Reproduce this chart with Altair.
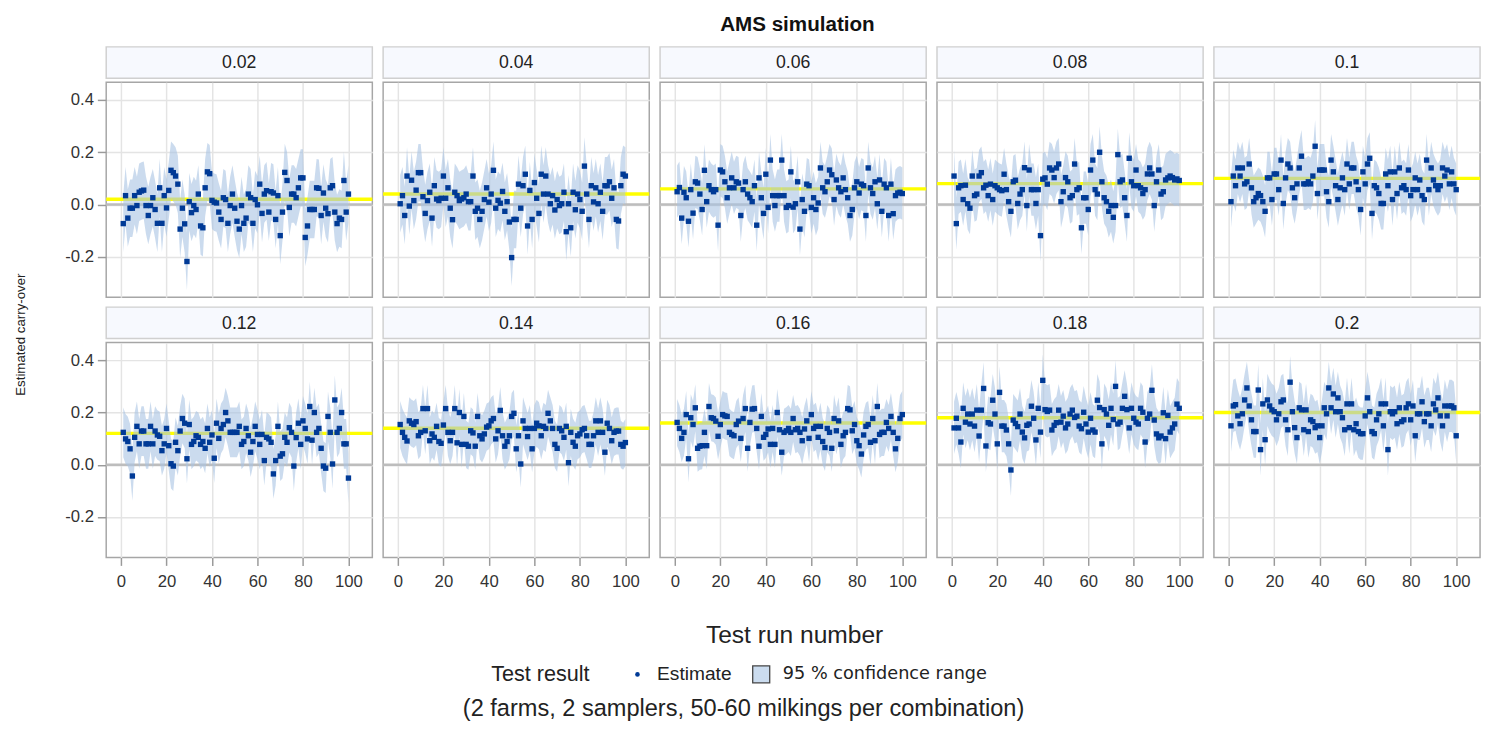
import altair as alt
import pandas as pd

FONT = "Liberation Sans"

TITLE = "AMS simulation"
Y_TITLE = "Estimated carry-over"
X_TITLE = "Test run number"
LEGEND_TITLE = "Test result"
LEGEND_LABELS = ["Estimate", "95 % confidence range"]
FOOTNOTE = "(2 farms, 2 samplers, 50-60 milkings per combination)"

PANEL_LABELS = ["0.02", "0.04", "0.06", "0.08", "0.1", "0.12", "0.14", "0.16", "0.18", "0.2"]
TRUE_VALUES = [0.02, 0.04, 0.06, 0.08, 0.10, 0.12, 0.14, 0.16, 0.18, 0.20]
HALF_WIDTHS = [0.11, 0.11, 0.10, 0.10, 0.10, 0.095, 0.09, 0.09, 0.10, 0.10]
X_TICKS = [0, 20, 40, 60, 80, 100]
Y_TICKS = [-0.2, 0.0, 0.2, 0.4]

EST_002 = [-0.073, 0.034, -0.052, -0.014, -0.014, 0.034, -0.004, 0.047, 0.052, 0.055,
           -0.004, -0.042, -0.004, 0.026, -0.019, -0.072, 0.064, -0.072, 0.034, -0.013,
           0.054, 0.131, 0.122, 0.109, 0.078, -0.094, -0.014, -0.074, -0.218, 0.011,
           -0.031, -0.004, -0.019, 0.040, -0.082, -0.089, 0.064, 0.125, 0.118, 0.016,
           0.009, 0.006, -0.029, -0.057, 0.026, 0.019, -0.072, -0.004, 0.040, -0.014,
           -0.064, -0.094, -0.004, -0.072, -0.052, 0.040, 0.026, -0.072, 0.019, -0.001,
           0.078, -0.034, 0.040, 0.053, -0.029, 0.049, 0.044, -0.057, 0.034, -0.119,
           -0.029, 0.123, 0.092, -0.011, 0.040, 0.040, 0.026, 0.064, 0.102, 0.102,
           -0.126, -0.082, -0.019, -0.019, -0.019, 0.064, 0.062, -0.042, 0.044, -0.014,
           -0.035, 0.064, 0.072, -0.029, -0.073, -0.052, -0.057, 0.092, -0.029, 0.040]

EST_004 = [0.003, 0.034, -0.042, 0.109, -0.006, 0.093, 0.015, 0.055, 0.122, 0.122,
           0.030, -0.034, 0.015, 0.047, -0.052, 0.072, 0.021, 0.015, 0.024, 0.109,
           0.024, 0.064, -0.014, -0.058, 0.047, 0.034, 0.015, 0.021, 0.026, 0.040,
           0.011, 0.011, 0.109, -0.026, -0.014, -0.057, -0.026, 0.019, 0.064, 0.009,
           0.040, 0.131, -0.014, 0.016, 0.005, 0.050, -0.026, 0.011, -0.067, -0.203,
           -0.057, -0.057, 0.078, -0.014, 0.072, 0.116, -0.082, 0.054, -0.057, 0.084,
           0.024, -0.034, 0.116, 0.040, 0.109, 0.040, 0.003, 0.034, -0.021, 0.019,
           -0.004, 0.003, 0.047, -0.104, 0.003, -0.089, 0.047, -0.020, 0.040, 0.019,
           -0.026, 0.147, 0.040, -0.057, 0.072, 0.010, 0.064, 0.003, 0.047, -0.026,
           0.072, 0.072, 0.087, 0.024, 0.064, -0.057, -0.063, 0.072, 0.116, 0.109]

EST_006 = [0.049, 0.065, -0.052, 0.047, 0.026, -0.064, 0.057, -0.033, 0.087, 0.082,
           0.040, -0.019, 0.131, 0.011, 0.072, 0.057, 0.049, 0.057, -0.079, 0.132,
           0.125, 0.087, 0.026, 0.064, 0.102, 0.064, 0.087, 0.082, -0.042, 0.057,
           0.087, 0.040, 0.026, 0.011, 0.072, -0.079, 0.102, 0.026, -0.034, 0.116,
           -0.011, 0.170, 0.034, -0.004, 0.034, 0.034, 0.170, 0.034, -0.011, -0.004,
           0.125, -0.010, 0.003, 0.087, -0.094, 0.019, -0.026, 0.078, 0.072, -0.011,
           0.026, -0.019, 0.006, 0.140, 0.064, 0.049, 0.087, 0.132, 0.114, 0.019,
           0.094, 0.064, 0.049, 0.102, 0.057, 0.026, -0.042, -0.019, 0.064, 0.087,
           0.044, 0.078, 0.072, -0.042, 0.140, 0.064, 0.042, 0.087, 0.003, 0.094,
           -0.026, 0.078, 0.064, -0.042, 0.078, -0.035, 0.034, 0.044, 0.047, 0.042]

EST_008 = [0.109, -0.073, 0.064, 0.072, 0.019, 0.074, 0.003, -0.014, 0.109, 0.034,
           0.040, 0.109, 0.122, 0.064, 0.074, 0.034, 0.078, 0.019, 0.072, 0.064,
           0.057, 0.053, 0.116, 0.057, 0.011, -0.026, 0.087, 0.093, 0.004, 0.040,
           0.057, 0.141, -0.004, 0.132, 0.057, 0.057, 0.004, 0.057, -0.119, 0.097,
           0.102, 0.078, 0.140, 0.132, 0.103, 0.140, 0.155, 0.011, 0.049, 0.103,
           0.087, 0.026, 0.034, 0.155, 0.057, 0.064, -0.089, 0.026, 0.026, -0.019,
           0.132, 0.170, 0.057, 0.040, 0.200, 0.087, 0.026, 0.011, -0.026, -0.004,
           -0.049, -0.004, 0.191, 0.087, 0.094, 0.026, -0.042, 0.177, 0.087, 0.072,
           0.132, 0.072, 0.064, 0.042, 0.057, 0.117, 0.140, 0.117, -0.004, 0.087,
           0.132, 0.040, 0.049, 0.094, 0.102, 0.109, 0.103, 0.094, 0.098, 0.092]

EST_010 = [0.011, 0.109, 0.072, 0.140, 0.109, 0.140, 0.079, 0.087, 0.155, 0.064,
           0.011, 0.026, 0.042, 0.034, 0.011, -0.026, 0.102, 0.102, 0.019, 0.117,
           0.117, 0.057, 0.170, 0.004, 0.102, 0.155, 0.140, 0.064, 0.026, 0.079,
           0.140, 0.185, 0.079, 0.079, 0.087, 0.079, 0.109, 0.223, 0.042, 0.132,
           0.132, 0.132, 0.049, 0.011, 0.170, 0.125, 0.072, 0.019, 0.064, 0.102,
           0.057, 0.155, 0.079, 0.140, 0.140, 0.087, 0.057, -0.019, 0.125, 0.079,
           0.155, 0.177, -0.034, 0.072, 0.064, 0.042, 0.004, 0.004, 0.117, 0.072,
           0.125, 0.019, 0.125, 0.042, 0.140, 0.064, 0.072, 0.057, 0.132, 0.034,
           0.057, 0.102, 0.057, 0.094, 0.034, 0.019, 0.170, 0.057, 0.140, 0.094,
           0.072, 0.057, 0.072, 0.140, 0.109, 0.132, 0.079, 0.125, 0.079, 0.057]

EST_012 = [0.124, 0.099, 0.089, 0.061, -0.043, 0.105, 0.147, 0.080, 0.129, 0.129,
           0.080, 0.080, 0.147, 0.080, 0.129, 0.114, 0.109, 0.054, 0.080, 0.139,
           0.073, 0.004, -0.005, 0.086, 0.054, 0.129, 0.177, 0.159, 0.023, 0.154,
           0.078, 0.089, 0.111, 0.105, 0.078, 0.089, 0.063, 0.139, 0.086, 0.114,
           0.025, 0.159, 0.101, 0.139, 0.154, 0.200, 0.168, 0.124, 0.124, 0.124,
           0.124, 0.147, 0.078, 0.089, 0.139, 0.111, 0.048, 0.089, 0.147, 0.116,
           0.078, 0.116, 0.016, 0.105, 0.099, 0.086, -0.035, 0.016, 0.147, 0.033,
           0.042, 0.105, 0.086, 0.142, 0.124, -0.005, 0.104, 0.159, 0.078, 0.168,
           0.139, 0.099, 0.223, 0.094, 0.200, 0.124, 0.139, 0.063, -0.005, -0.013,
           0.185, 0.124, 0.003, 0.248, 0.124, 0.139, 0.200, 0.080, 0.080, -0.051]

EST_014 = [0.154, 0.124, 0.105, 0.091, 0.168, 0.159, 0.154, 0.165, 0.111, 0.124,
           0.215, 0.130, 0.215, 0.092, 0.118, 0.105, 0.147, 0.089, 0.082, 0.152,
           0.215, 0.124, 0.092, 0.124, 0.215, 0.084, 0.200, 0.078, 0.185, 0.078,
           0.071, 0.130, 0.122, 0.071, 0.185, 0.111, 0.099, 0.118, 0.144, 0.149,
           0.168, 0.177, 0.099, 0.130, 0.208, 0.111, 0.071, 0.089, 0.111, 0.185,
           0.197, 0.061, 0.111, 0.003, 0.168, 0.139, 0.108, 0.139, 0.061, 0.139,
           0.159, 0.149, 0.111, 0.147, 0.139, 0.197, 0.168, 0.139, 0.078, 0.063,
           0.139, 0.130, 0.105, 0.147, 0.008, 0.124, 0.086, 0.071, 0.111, 0.118,
           0.134, 0.139, 0.111, 0.078, 0.078, 0.111, 0.168, 0.124, 0.168, 0.124,
           0.048, 0.159, 0.139, 0.092, 0.124, 0.129, 0.129, 0.078, 0.071, 0.085]

EST_016 = [0.162, 0.139, 0.101, 0.124, 0.192, 0.023, 0.180, 0.154, 0.218, 0.063,
           0.071, 0.073, 0.124, 0.073, 0.223, 0.180, 0.177, 0.167, 0.109, 0.154,
           0.192, 0.187, 0.185, 0.124, 0.116, 0.111, 0.154, 0.167, 0.101, 0.177,
           0.215, 0.063, 0.162, 0.213, 0.215, 0.139, 0.071, 0.185, 0.105,
           0.116, 0.137, 0.078, 0.139, 0.078, 0.200, 0.134, 0.048, 0.124, 0.130,
           0.139, 0.124, 0.177, 0.134, 0.139, 0.124, 0.092, 0.137, 0.168,
           0.101, 0.192, 0.139, 0.147, 0.105, 0.147, 0.089, 0.066, 0.139, 0.124,
           0.063, 0.177, 0.130, 0.168, 0.078, 0.111, 0.124, 0.215, 0.210, 0.130,
           0.154, 0.092, 0.073, 0.041, 0.114, 0.147, 0.154, 0.086, 0.177, 0.092,
           0.223, 0.116, 0.124, 0.124, 0.162, 0.139, 0.185, 0.124, 0.061,
           0.101, 0.177, 0.192]

EST_018 = [0.141, 0.178, 0.141, 0.087, 0.216, 0.163, 0.194, 0.156, 0.194, 0.148,
           0.209, 0.110, 0.209, 0.292, 0.072, 0.161, 0.156, 0.247, 0.194, 0.080,
           0.277, 0.148, 0.148, 0.133, 0.080, -0.020, 0.171, 0.158, 0.146, 0.194,
           0.125, 0.103, 0.151, 0.156, 0.224, 0.178, 0.095, 0.216, 0.125, 0.323,
           0.211, 0.204, 0.209, 0.133, 0.151, 0.161, 0.209, 0.163, 0.186, 0.141,
           0.156, 0.194, 0.209, 0.181, 0.186, 0.148, 0.138, 0.201, 0.156, 0.125,
           0.178, 0.133, 0.125, 0.247, 0.219, 0.080, 0.211, 0.194, 0.151, 0.216,
           0.173, 0.300, 0.156, 0.163, 0.216, 0.262, 0.211, 0.141, 0.216, 0.178,
           0.163, 0.156, 0.216, 0.201, 0.087, 0.178, 0.194, 0.285, 0.171,
           0.118, 0.103, 0.110, 0.199, 0.100, 0.189, 0.125, 0.141, 0.156, 0.232,
           0.216]

EST_020 = [0.149, 0.225, 0.230, 0.187, 0.157, 0.195, 0.248, 0.294, 0.225, 0.172,
           0.127, 0.127, 0.286, 0.058, 0.233, 0.096, 0.248, 0.225, 0.210, 0.203,
           0.172, 0.195, 0.241, 0.248, 0.172, 0.134, 0.316, 0.203, 0.142, 0.104,
           0.218, 0.210, 0.134, 0.210, 0.127, 0.172, 0.165, 0.142, 0.149, 0.104,
           0.149, 0.218, 0.195, 0.294, 0.218, 0.271, 0.203, 0.256, 0.203, 0.180,
           0.134, 0.233, 0.142, 0.233, 0.134, 0.157, 0.127, 0.119, 0.119, 0.187,
           0.256, 0.203, 0.127, 0.119, 0.172, 0.195, 0.233, 0.149, 0.233, 0.058,
           0.203, 0.195, 0.203, 0.157, 0.218, 0.165, 0.172, 0.218, 0.233, 0.172,
           0.225, 0.111, 0.195, 0.195, 0.241, 0.165, 0.195, 0.195, 0.149, 0.233,
           0.210, 0.256, 0.187, 0.149, 0.225, 0.187, 0.225, 0.225, 0.218, 0.111]

ESTIMATES = [EST_002, EST_004, EST_006, EST_008, EST_010,
             EST_012, EST_014, EST_016, EST_018, EST_020]

# ---- tables built from the lists above ----
rows = []
for lab, hw, est in zip(PANEL_LABELS, HALF_WIDTHS, ESTIMATES):
    for k, e in enumerate(est):
        rows.append({"panel": lab, "run": k + 1, "est": e, "lo": e - hw, "hi": e + hw})
df = pd.DataFrame(rows)
panels_df = pd.DataFrame({"panel": PANEL_LABELS, "truth": TRUE_VALUES})

W, H, STRIP_H = 271, 219, 32
POINT_COLOR = "#003a96"
BAND_COLOR = "#a8c3e3"

xscale = alt.Scale(domain=[-6.5, 110.5], nice=False, zero=False)
yscale = alt.Scale(domain=[-0.355, 0.468], nice=False, zero=False)


def plot_panel(i):
    lab = PANEL_LABELS[i]
    r, c = divmod(i, 5)
    show_x = r == 1
    show_y = c == 0
    xaxis = alt.Axis(values=X_TICKS, title=None, grid=True, domain=False,
                     labels=show_x, ticks=show_x, tickSize=8, tickColor="#9a9a9a",
                     tickWidth=1.5, labelPadding=8, labelFontSize=17,
                     labelColor="#333333", labelFont=FONT)
    yaxis = alt.Axis(values=Y_TICKS, title=None, grid=True, domain=False,
                     labels=show_y, ticks=show_y, tickSize=9, tickColor="#9a9a9a",
                     tickWidth=1.5, labelPadding=4, labelFontSize=17,
                     labelColor="#333333", labelFont=FONT, format=".1f",
                     labelExpr="replace(datum.label, '\u2212', '-')")
    pts_base = alt.Chart(df).transform_filter(alt.datum.panel == lab)
    ref_base = alt.Chart(panels_df).transform_filter(alt.datum.panel == lab)

    zero = ref_base.mark_rule(color="#bdbdbd", strokeWidth=2.5).encode(
        y=alt.datum(0, scale=yscale, axis=yaxis))
    truth = ref_base.mark_rule(color="#ffff00", strokeWidth=3.5).encode(
        y=alt.Y("truth:Q", scale=yscale, axis=yaxis))
    band = pts_base.mark_area(color=BAND_COLOR, opacity=0.6).encode(
        x=alt.X("run:Q", scale=xscale, axis=xaxis),
        y=alt.Y("lo:Q", scale=yscale, axis=yaxis),
        y2="hi:Q")
    pts = pts_base.mark_square(size=30, color=POINT_COLOR, opacity=1).encode(
        x=alt.X("run:Q", scale=xscale, axis=xaxis),
        y=alt.Y("est:Q", scale=yscale, axis=yaxis))
    return alt.layer(zero, truth, band, pts).properties(width=W, height=H)


def strip_panel(i):
    lab = PANEL_LABELS[i]
    return alt.Chart(panels_df).transform_filter(alt.datum.panel == lab).mark_text(
        font=FONT, fontSize=18, color="#222222").encode(
        text="panel:N", x=alt.value(W / 2), y=alt.value(STRIP_H / 2 + 1)
    ).properties(width=W, height=STRIP_H,
                 view=alt.ViewBackground(fill="#f7f9fe", stroke="#d0d0d0", strokeWidth=1.5))


def column(i):
    return alt.vconcat(strip_panel(i), plot_panel(i), spacing=2)


row1 = alt.hconcat(*[column(i) for i in range(5)], spacing=5)
row2 = alt.hconcat(*[column(i) for i in range(5, 10)], spacing=5)
grid = alt.vconcat(row1, row2, spacing=8)

ytitle = alt.Chart(pd.DataFrame({"t": [Y_TITLE]})).mark_text(
    angle=270, font=FONT, fontSize=13.5, color="#222222").encode(
    text="t:N", x=alt.value(12), y=alt.value(293)
).properties(width=24, height=554, view=alt.ViewBackground(stroke="transparent"))

top = alt.hconcat(ytitle, grid, spacing=30)


def txt(s, x, y, size, align="center", font=FONT):
    return alt.Chart(pd.DataFrame({"t": [s]})).mark_text(
        font=font, fontSize=size, color="#222222", align=align).encode(
        text="t:N", x=alt.value(x), y=alt.value(y))


legend_y = 83
footer = alt.layer(
    txt(X_TITLE, 800, 43, 25),
    txt(LEGEND_TITLE, 491, legend_y, 22, "left"),
    alt.Chart(pd.DataFrame({"t": [LEGEND_LABELS[0]]})).mark_circle(
        size=22, color=POINT_COLOR, opacity=1).encode(x=alt.value(640), y=alt.value(legend_y)),
    txt(LEGEND_LABELS[0], 660, legend_y, 19.5, "left"),
    alt.Chart(pd.DataFrame({"t": [LEGEND_LABELS[1]]})).mark_square(
        size=300, fill="#cbdcef", stroke="#444444", strokeWidth=1.3, opacity=1).encode(
        x=alt.value(766), y=alt.value(legend_y)),
    txt(LEGEND_LABELS[1], 788, legend_y, 18, "left", "DejaVu Sans"),
    txt(FOOTNOTE, 748, 118, 24),
).properties(width=1472, height=126, view=alt.ViewBackground(stroke="transparent"))

chart = alt.vconcat(top, footer, spacing=0).properties(
    title=alt.TitleParams(TITLE, font=FONT, fontSize=21, fontWeight="bold",
                          color="#111111", anchor="middle", dx=53, offset=11),
    padding={"left": 0, "top": 0, "right": 0, "bottom": 0},
).configure_view(
    stroke="#a6a6a6", strokeWidth=1.5
).configure_axis(
    gridColor="#e4e4e4", gridWidth=1.5
)

chart.save("out.html", embed_options={"renderer": "svg", "actions": False})
